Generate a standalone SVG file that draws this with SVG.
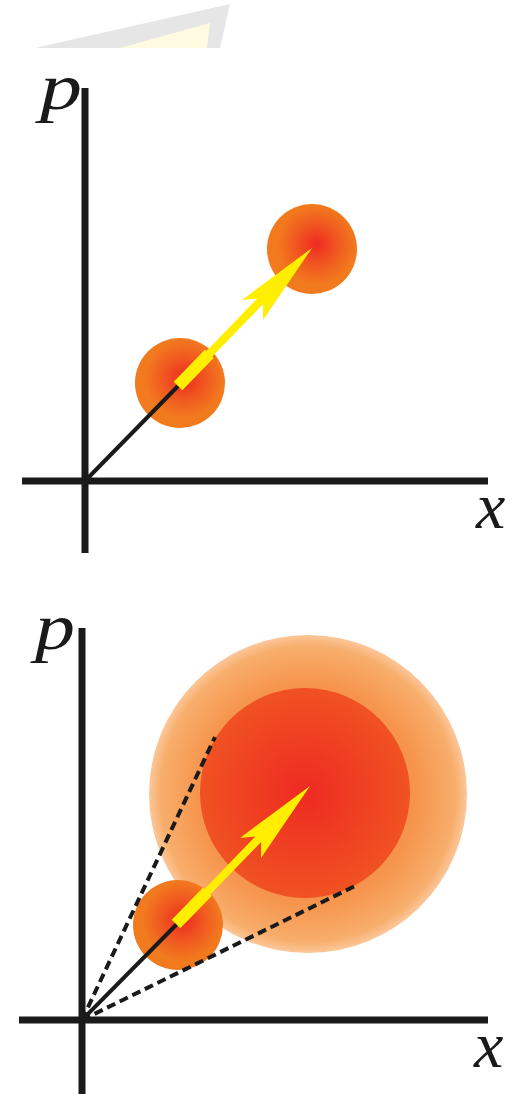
<svg xmlns="http://www.w3.org/2000/svg" width="517" height="1094" viewBox="0 0 517 1094">
<style>
.axis{stroke:#1a1a1a;stroke-width:7;fill:none}
.vec{stroke:#1a1a1a;stroke-width:4;fill:none}
.dash{stroke:#1a1a1a;stroke-width:4;fill:none;stroke-dasharray:9 5}
.lbl{font-family:"Liberation Serif",serif;font-style:italic;font-size:66px;fill:#1a1a1a}
.arrow{fill:#ffee00}
</style>
<defs>
<radialGradient id="blob" cx="0.55" cy="0.45" r="0.55">
<stop offset="0" stop-color="#ee2a22"/>
<stop offset="0.4" stop-color="#f05520"/>
<stop offset="0.8" stop-color="#f27a1e"/>
<stop offset="1" stop-color="#f27a1e"/>
</radialGradient>
<radialGradient id="outer">
<stop offset="0" stop-color="#f06030"/>
<stop offset="0.7" stop-color="#f6964e"/>
<stop offset="0.93" stop-color="#f8ae6c"/>
<stop offset="1" stop-color="#fbc79a"/>
</radialGradient>
<radialGradient id="inner">
<stop offset="0" stop-color="#ee2a22"/>
<stop offset="1" stop-color="#f05222"/>
</radialGradient>
<polygon id="arrowShape" points="173.7,381.8 205.1,349.5 206.5,350.9 257.3,298.5 242,300 312,248 263,320 263.1,304.1 212.3,356.5 213.7,357.9 182.3,390.2"/>
</defs>
<g id="watermark">
<polygon points="35,48 230,4 220,48" fill="#e6e6e6"/>
<polygon points="120,48 210,23 207,48" fill="#fffbe0"/>
</g>
<g id="top-panel">
<g id="top-axes">
<line class="axis" x1="85" y1="88" x2="85" y2="553"/>
<line class="axis" x1="22" y1="481" x2="488" y2="481"/>
<text class="lbl" x="40" y="109" textLength="42" lengthAdjust="spacingAndGlyphs">p</text>
<text class="lbl" x="476" y="528">x</text>
</g>
<g id="top-start"><circle cx="180" cy="383" r="45" fill="url(#blob)"/></g>
<g id="top-end"><circle cx="312" cy="249" r="45" fill="url(#blob)"/></g>
</g>
<g id="bottom-panel">
<g id="bottom-axes">
<line class="axis" x1="82" y1="628" x2="82" y2="1094"/>
<line class="axis" x1="19" y1="1020" x2="488" y2="1020"/>
<text class="lbl" x="35" y="649" textLength="40" lengthAdjust="spacingAndGlyphs">p</text>
<text class="lbl" x="474" y="1067">x</text>
</g>
<g id="bottom-spread">
<circle cx="308" cy="794" r="159" fill="url(#outer)"/>
<circle cx="305" cy="793" r="105" fill="url(#inner)"/>
</g>
<g id="bottom-start"><circle cx="178" cy="925" r="45" fill="url(#blob)"/></g>
</g>
<g id="connectors">
<line class="vec" x1="85" y1="481" x2="180" y2="384"/>
<use href="#arrowShape" class="arrow"/>
<line class="vec" x1="82" y1="1020" x2="177" y2="924"/>
<line class="dash" x1="82" y1="1020" x2="215" y2="737"/>
<line class="dash" x1="82" y1="1020" x2="357" y2="885"/>
<use href="#arrowShape" class="arrow" transform="translate(-2,538)"/>
</g>
</svg>
